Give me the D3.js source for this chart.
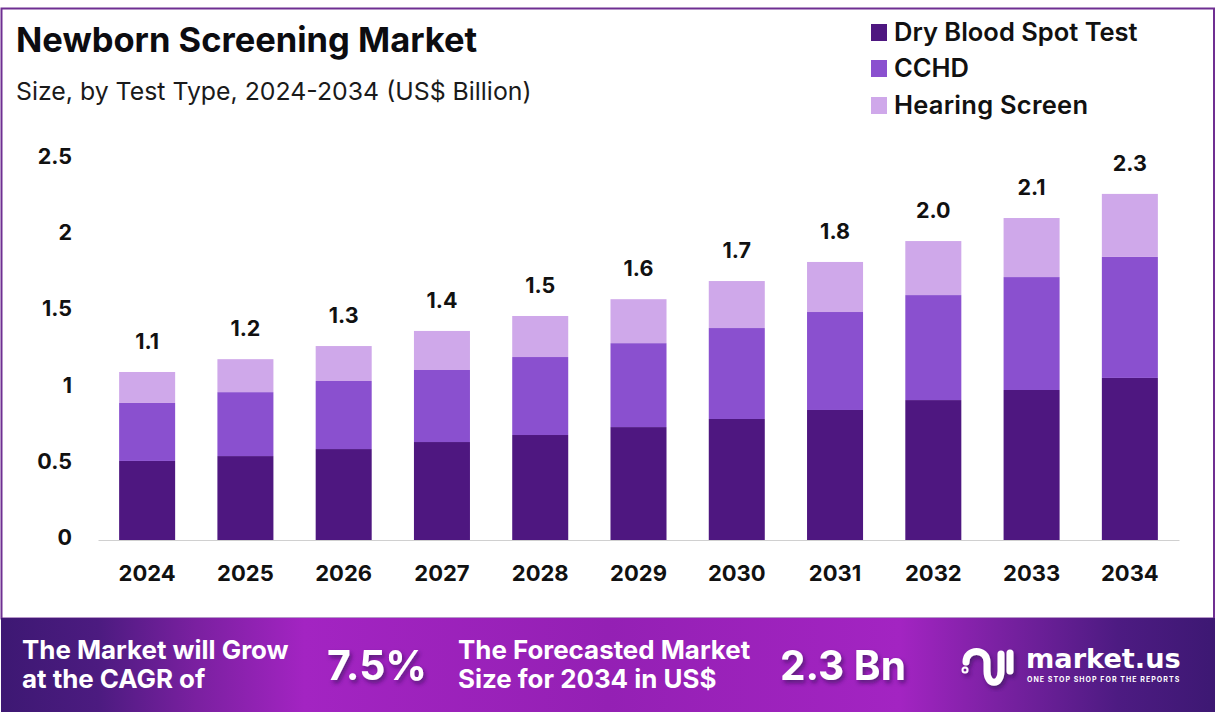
<!DOCTYPE html>
<html><head><meta charset="utf-8">
<script src="https://cdn.jsdelivr.net/npm/d3@7"></script>
<style>html,body{margin:0;padding:0;background:#fff}svg{display:block}text{font-family:Inter,"Open Sans",sans-serif}</style>
</head><body><svg id="c" width="1216" height="722"></svg>
<script>
const years=[2024,2025,2026,2027,2028,2029,2030,2031,2032,2033,2034];
const dryBlood=[0.518,0.55,0.596,0.642,0.688,0.74,0.793,0.852,0.917,0.983,1.062];
const cchd=[0.38,0.419,0.446,0.472,0.511,0.55,0.596,0.642,0.688,0.74,0.793];
const hearing=[0.203,0.216,0.229,0.256,0.269,0.288,0.308,0.328,0.354,0.387,0.413];
const totals=["1.1","1.2","1.3","1.4","1.5","1.6","1.7","1.8","2.0","2.1","2.3"];
const seriesNames=["Dry Blood Spot Test","CCHD","Hearing Screen"];
const seriesColors=["#4e1780","#8a50cf","#cfa8ea"];
const yTicks=[0,0.5,1,1.5,2,2.5];

const svg=d3.select("#c");
const defs=svg.append("defs");
const g=defs.append("linearGradient").attr("id","band");
[[0,"#3d1873"],[0.08,"#4c1b80"],[0.16,"#7a20a0"],[0.25,"#a324c2"],[0.5,"#9420b4"],[0.74,"#a324c2"],[0.82,"#7b21a3"],[0.92,"#4d1b82"],[1,"#3d1873"]]
  .forEach(([o,c])=>g.append("stop").attr("offset",o).attr("stop-color",c));
const f=defs.append("filter").attr("id","sh").attr("x","-20%").attr("y","-20%").attr("width","140%").attr("height","150%");
f.append("feDropShadow").attr("dx",2).attr("dy",3).attr("stdDeviation",2).attr("flood-color","#2a0a50").attr("flood-opacity",0.6);

svg.append("rect").attr("x",1.5).attr("y",8.5).attr("width",1212.5).attr("height",610)
  .attr("fill","#fff").attr("stroke","#6f2f92").attr("stroke-width",2);
svg.append("rect").attr("x",1).attr("y",618).attr("width",1214).attr("height",94).attr("fill","url(#band)");

const x=d3.scaleBand().domain(years).range([98,1179]).paddingInner(0.43).paddingOuter(0.215);
const y=d3.scaleLinear().domain([0,2.5]).range([540,158.5]);

const rows=years.map((yr,i)=>({year:yr,d:dryBlood[i],c:cchd[i],h:hearing[i]}));
const stack=d3.stack().keys(["d","c","h"])(rows);
svg.append("g").selectAll("g").data(stack).join("g").attr("fill",(d,i)=>seriesColors[i])
  .selectAll("rect").data(d=>d).join("rect")
  .attr("x",d=>x(d.data.year)).attr("width",x.bandwidth())
  .attr("y",d=>y(d[1])).attr("height",d=>y(d[0])-y(d[1]));

const xAxis=svg.append("g").attr("transform","translate(0,540)").call(d3.axisBottom(x).tickSize(0).tickPadding(25).tickFormat(d3.format("d")));
xAxis.select(".domain").attr("stroke","#d0d0d0");
xAxis.selectAll("text").attr("font-size",22).attr("font-weight",700).attr("fill","#111").style("font-family","Inter");
const yAxis=svg.append("g").attr("transform","translate(72,0)").call(d3.axisLeft(y).tickValues(yTicks).tickSize(0).tickPadding(0).tickFormat(d=>String(d)));
yAxis.select(".domain").remove();
yAxis.selectAll("text").attr("font-size",21.5).attr("font-weight",700).attr("fill","#111").attr("dy","0.22em").style("font-family","Inter");

svg.append("g").selectAll("text").data(rows).join("text")
  .attr("x",d=>x(d.year)+x.bandwidth()/2).attr("y",d=>y(d.d+d.c+d.h)-23)
  .attr("text-anchor","middle").attr("font-size",21.5).attr("font-weight",700).attr("fill","#111")
  .text((d,i)=>totals[i]);

svg.append("text").attr("x",16).attr("y",52).attr("font-size",34.5).attr("font-weight",700).attr("fill","#0c0c10").text("Newborn Screening Market");
svg.append("text").attr("x",16).attr("y",100).attr("font-size",24.85).attr("font-weight",400).attr("fill","#1a1a1a").text("Size, by Test Type, 2024-2034 (US$ Billion)");

const ly=[32,68,105];
seriesNames.forEach((n,i)=>{
  svg.append("rect").attr("x",871).attr("y",ly[i]-8).attr("width",16).attr("height",17).attr("fill",seriesColors[i]);
  svg.append("text").attr("x",894).attr("y",ly[i]+9).attr("font-size",25.5).attr("font-weight",600).attr("letter-spacing",i==2?0.25:0).attr("fill","#111").text(n);
});

const white=(t,xx,yy,s,w,sh)=>{const e=svg.append("text").attr("x",xx).attr("y",yy).attr("font-size",s).attr("font-weight",w).attr("fill","#fff").text(t);if(sh)e.attr("filter","url(#sh)");return e;};
white("The Market will Grow",22,659,25.9,700);
white("at the CAGR of",22,688,25.9,700);
white("7.5%",327,680,41,700,true);
white("The Forecasted Market",458,659,25.9,700);
white("Size for 2034 in US$",458,688,25.9,700);
white("2.3 Bn",780,680,40.5,700,true);

const logo=svg.append("g").attr("fill","none").attr("stroke","#fff").attr("stroke-width",7).attr("stroke-linecap","round").attr("filter","url(#sh)");
logo.append("path").attr("d","M966 662C966 648 987 648 987 662V671C987 686 1001 686 1001 671V654");
logo.append("path").attr("d","M1010 653V671");
logo.append("circle").attr("cx",965).attr("cy",670).attr("r",1).attr("stroke-width",5);
white("market.us",1026,668,27.2,700).style("font-family","'DejaVu Sans'");
white("ONE STOP SHOP FOR THE REPORTS",1027,682,7,700).attr("letter-spacing",1.05);
</script></body></html>
